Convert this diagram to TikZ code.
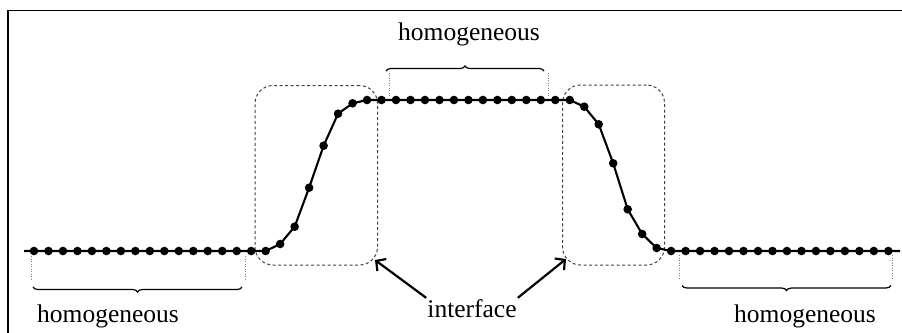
\documentclass[tikz,border=0pt]{standalone}
\usepackage{fontspec}
\setmainfont{Liberation Serif}
\usetikzlibrary{decorations.pathreplacing,arrows.meta,calc}
\begin{document}
\begin{tikzpicture}[x=1pt,y=-1pt,
  curve/.style={line width=2.1pt},
  dot/.style={circle,fill=black,inner sep=0pt,minimum size=8.6pt},
  ibox/.style={draw=black!75,dash pattern=on 3pt off 2.5pt,line width=1pt,rounded corners=18pt,inner sep=0pt},
  guide/.style={draw=black!50,line width=0.8pt,dash pattern=on 1pt off 1.5pt},
  brc/.style={decorate,decoration={brace,amplitude=5pt},line width=1.2pt},
  lbl/.style={font=\fontsize{25.5pt}{30pt}\selectfont,inner sep=1pt,anchor=base},
  arr/.style={line width=2.2pt,-{Straight Barb[length=7pt,width=15pt]}}
]
\useasboundingbox (0,0) rectangle (902,332);
% frame (partly visible)
\draw[line width=1.2pt] (8,340) -- (8,10.5) -- (910,10.5);

% sample points
\foreach \yy [count=\k from 0] in {251,251,251,251,251,251,251,251,251,251,251,251,251,251,251,251,251,
  244,226.7,187.7,145.7,113.7,103.3,
  100,100,100,100,100,100,100,100,100,100,100,100,100,100,100,
  106.7,124.3,163.3,209.3,234,248,
  251,251,251,251,251,251,251,251,251,251,251,251,251,251,251,251}
  { \coordinate (p\k) at ({34+\k*14.48},\yy); }
\coordinate (Lstart) at (24,251);
\coordinate (Lend) at (900,251);

% interface boxes
\node[ibox,minimum width=122.5pt,minimum height=179.5pt] (lbox) at (316.25,175.25) {};
\node[ibox,minimum width=102pt,minimum height=180pt] (rbox) at (613.5,175) {};

% curve and dots
\draw[curve] (Lstart) \foreach \k in {0,...,59} { -- (p\k) } -- (Lend);
\foreach \k in {0,...,59} { \node[dot] (d\k) at (p\k) {}; }

% guide lines
\coordinate (g1a) at (31,256); \coordinate (g1b) at (31,281);
\coordinate (g2a) at (245,256); \coordinate (g2b) at (245,281);
\coordinate (g3a) at (389.5,72.5); \coordinate (g3b) at (389.5,96.5);
\coordinate (g4a) at (548.5,72.5); \coordinate (g4b) at (548.5,96.5);
\coordinate (g5a) at (679,255); \coordinate (g5b) at (679,280);
\coordinate (g6a) at (892.5,255); \coordinate (g6b) at (892.5,280);
\foreach \g in {1,...,6} { \draw[guide] (g\g a) -- (g\g b); }

% braces
\coordinate (b1r) at (242,287); \coordinate (b1l) at (33,287);
\coordinate (b2l) at (386,71); \coordinate (b2r) at (544,71);
\coordinate (b3r) at (891,285.5); \coordinate (b3l) at (682,285.5);
\draw[brc] (b1r) -- (b1l);
\draw[brc] (b2l) -- (b2r);
\draw[brc] (b3r) -- (b3l);

% labels
\node[lbl] (htop) at (469,40.7) {homogeneous};
\node[lbl] (hleft) at (108,322) {homogeneous};
\node[lbl] (hright) at (805,322) {homogeneous};
\node[lbl] (intf) at (472,317) {interface};

% arrows
\coordinate (ltip) at ($(lbox.south east)+(-3,-5.5)$);
\coordinate (rtip) at ($(rbox.south west)+(4,-6.5)$);
\draw[arr] (intf.north west) -- (ltip);
\draw[arr] (intf.north east) -- (rtip);
\end{tikzpicture}
\end{document}
